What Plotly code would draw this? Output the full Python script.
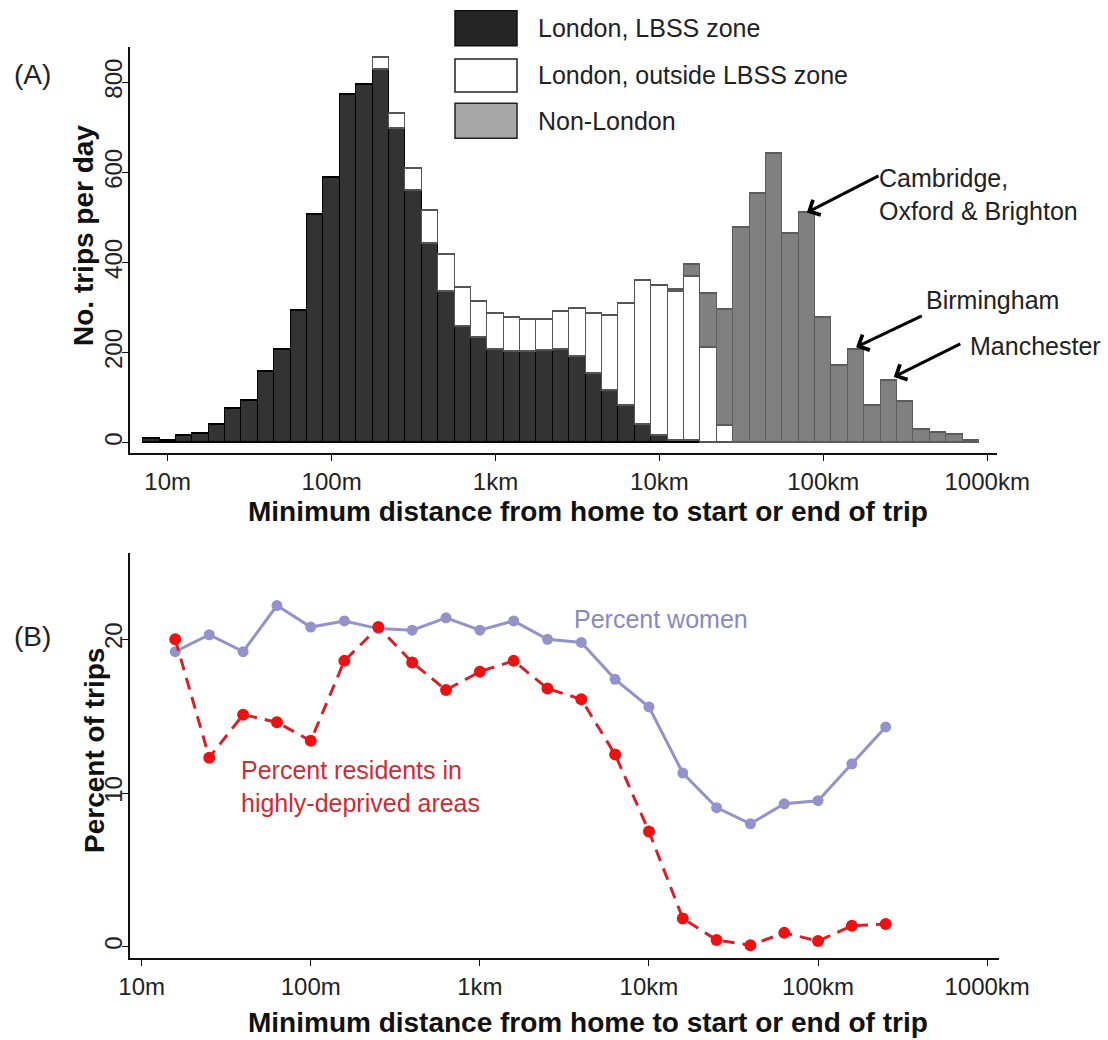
import plotly.graph_objects as go

W, H = 1108, 1040
FONT = "Liberation Sans, Arial, sans-serif"

# ---------------- Panel A data (bins of 0.1 decade, centre in log10 metres) ----------------
bin_log10_m = [0.9, 1.0, 1.1, 1.2, 1.3, 1.4, 1.5, 1.6, 1.7, 1.8,
               1.9, 2.0, 2.1, 2.2, 2.3, 2.4, 2.5, 2.6, 2.7, 2.8,
               2.9, 3.0, 3.1, 3.2, 3.3, 3.4, 3.5, 3.6, 3.7, 3.8,
               3.9, 4.0, 4.1, 4.2, 4.3, 4.4, 4.5, 4.6, 4.7, 4.8,
               4.9, 5.0, 5.1, 5.2, 5.3, 5.4, 5.5, 5.6, 5.7, 5.8, 5.9]
london_lbss = [8, 4, 15, 19, 41, 75, 93, 158, 207, 293,
               507, 588, 773, 794, 829, 696, 559, 442, 335, 257,
               232, 206, 203, 203, 205, 206, 192, 154, 115, 82,
               39, 15, 4, 4, 0, 0, 0, 0, 0, 0,
               0, 0, 0, 0, 0, 0, 0, 0, 0, 0, 0]
london_outside = [0, 0, 0, 0, 0, 0, 0, 0, 0, 0,
                  0, 0, 0, 0, 26, 34, 50, 74, 82, 88,
                  80, 81, 74, 71, 69, 85, 106, 133, 168, 227,
                  321, 333, 331, 364, 212, 37, 0, 0, 0, 0,
                  0, 0, 0, 0, 0, 0, 0, 0, 0, 0, 0]
non_london = [0, 0, 0, 0, 0, 0, 0, 0, 0, 0,
              0, 0, 0, 0, 0, 0, 0, 0, 0, 0,
              0, 0, 0, 0, 0, 0, 0, 0, 0, 0,
              0, 0, 5, 28, 119, 259, 477, 552, 641, 463,
              511, 278, 171, 207, 82, 137, 90, 30, 22, 18, 4]
tick_log10_a = [1, 2, 3, 4, 5, 6]
tick_labels = ["10m", "100m", "1km", "10km", "100km", "1000km"]
yticks_a = [0, 200, 400, 600, 800]

# ---------------- Panel B data ----------------
dist_m = [15.8, 25.1, 39.8, 63.1, 100, 158, 251, 398, 631, 1000, 1585,
          2512, 3981, 6310, 10000, 15849, 25119, 39811, 63096, 100000, 158489, 251189]
pct_women = [19.2, 20.3, 19.2, 22.2, 20.8, 21.2, 20.7, 20.6, 21.4, 20.6, 21.2,
             20.0, 19.8, 17.4, 15.6, 11.3, 9.05, 8.0, 9.3, 9.5, 11.9, 14.3]
pct_deprived = [20.0, 12.3, 15.1, 14.6, 13.4, 18.6, 20.8, 18.5, 16.7, 17.9, 18.6,
                16.8, 16.1, 12.5, 7.5, 1.84, 0.43, 0.1, 0.9, 0.37, 1.36, 1.47]
tick_m_b = [10, 100, 1000, 10000, 100000, 1000000]
yticks_b = [0, 10, 20]


def nz(v):
    return [x if x else None for x in v]


def px(x):
    return x / W


def py(y):
    return 1 - y / H


fig = go.Figure()

fig.add_trace(go.Bar(x=bin_log10_m, y=nz(london_lbss), width=0.1, name="London, LBSS zone",
                     marker=dict(color="#333333", line=dict(color="#000000", width=1.3)),
                     xaxis="x", yaxis="y", showlegend=False))
fig.add_trace(go.Bar(x=bin_log10_m, y=nz(london_outside), width=0.1, name="London, outside LBSS zone",
                     marker=dict(color="#ffffff", line=dict(color="#555555", width=1.3)),
                     xaxis="x", yaxis="y", showlegend=False))
fig.add_trace(go.Bar(x=bin_log10_m, y=nz(non_london), width=0.1, name="Non-London",
                     marker=dict(color="#808080", line=dict(color="#5c5c5c", width=1.3)),
                     xaxis="x", yaxis="y", showlegend=False))

fig.add_trace(go.Scatter(x=dist_m, y=pct_women, mode="lines+markers", name="Percent women",
                         line=dict(color="#9393cc", width=3),
                         marker=dict(color="#9393cc", size=11),
                         xaxis="x2", yaxis="y2", showlegend=False))
fig.add_trace(go.Scatter(x=dist_m, y=pct_deprived, mode="lines+markers",
                         name="Percent residents in highly-deprived areas",
                         line=dict(color="#d8202a", width=3, dash="12px,8px"),
                         marker=dict(color="#ee1111", size=12),
                         xaxis="x2", yaxis="y2", showlegend=False))

axis_common = dict(showline=True, linecolor="#111111", linewidth=1.5, ticks="outside",
                   ticklen=6, tickwidth=1.3, tickcolor="#111111", showgrid=False,
                   zeroline=False, tickfont=dict(family=FONT, size=24, color="#222222"),
                   fixedrange=True, automargin=False)

fig.update_layout(
    template="none",
    width=W, height=H,
    margin=dict(l=0, r=0, t=0, b=0, pad=0),
    paper_bgcolor="white", plot_bgcolor="white",
    barmode="stack", bargap=0,
    showlegend=False,
    font=dict(family=FONT, color="#111111"),
    xaxis=dict(domain=[px(130), px(996.7)], range=[0.770, 6.058], tickmode="array",
               tickvals=tick_log10_a, ticktext=tick_labels, anchor="y", **axis_common),
    yaxis=dict(domain=[py(453.3), py(46.7)], range=[-23.5, 879], tickmode="array",
               tickvals=yticks_a, tickangle=-90, anchor="x", ticklabelstandoff=-9, **axis_common),
    xaxis2=dict(domain=[px(130), px(999)], type="log", range=[0.931, 6.070], tickmode="array",
                tickvals=tick_m_b, ticktext=tick_labels, anchor="y2", **axis_common),
    yaxis2=dict(domain=[py(958.3), py(553.3)], range=[-0.755, 25.6], tickmode="array",
                tickvals=yticks_b, tickangle=-90, anchor="x2", ticklabelstandoff=-9, **axis_common),
)

shapes = []
annotations = []

# Legend (manual, large boxes)
legend_items = [("London, LBSS zone", "#262626", "#111111", 10.7, 45.7, 28),
                ("London, outside LBSS zone", "#ffffff", "#222222", 59, 92, 75),
                ("Non-London", "#a6a6a6", "#222222", 103.3, 138.3, 121)]
for label, fill, edge, y0, y1, yc in legend_items:
    shapes.append(dict(type="rect", xref="paper", yref="paper", x0=px(455), x1=px(517),
                       y0=py(y1), y1=py(y0), fillcolor=fill, line=dict(color=edge, width=1.5)))
    annotations.append(dict(xref="paper", yref="paper", x=px(536), y=py(yc), text=label,
                            showarrow=False, xanchor="left", yanchor="middle",
                            font=dict(family=FONT, size=25, color="#222222")))

# Panel labels
annotations.append(dict(xref="paper", yref="paper", x=px(32), y=py(75), text="(A)", showarrow=False,
                        xanchor="center", yanchor="middle", font=dict(family=FONT, size=28, color="#222222")))
annotations.append(dict(xref="paper", yref="paper", x=px(32), y=py(636), text="(B)", showarrow=False,
                        xanchor="center", yanchor="middle", font=dict(family=FONT, size=28, color="#222222")))

# Axis titles
xtitle = "<b>Minimum distance from home to start or end of trip</b>"
annotations.append(dict(xref="paper", yref="paper", x=px(588), y=py(511), text=xtitle, showarrow=False,
                        xanchor="center", yanchor="middle", font=dict(family=FONT, size=28, color="#111111")))
annotations.append(dict(xref="paper", yref="paper", x=px(588), y=py(1022), text=xtitle, showarrow=False,
                        xanchor="center", yanchor="middle", font=dict(family=FONT, size=28, color="#111111")))
annotations.append(dict(xref="paper", yref="paper", x=px(84), y=py(236), text="<b>No. trips per day</b>",
                        showarrow=False, textangle=-90, xanchor="center", yanchor="middle",
                        font=dict(family=FONT, size=28, color="#111111")))
annotations.append(dict(xref="paper", yref="paper", x=px(94), y=py(751), text="<b>Percent of trips</b>",
                        showarrow=False, textangle=-90, xanchor="center", yanchor="middle",
                        font=dict(family=FONT, size=28, color="#111111")))

# City annotations with arrows (tip at bar top, tail near the text)
arrows = [(4.9, 511, 5.346, 594), (5.2, 212, 5.61, 283), (5.43, 146, 5.845, 221)]
for tx, ty, axv, ayv in arrows:
    annotations.append(dict(x=tx, y=ty, xref="x", yref="y", ax=axv, ay=ayv, axref="x", ayref="y",
                            text="", showarrow=True, arrowhead=4, arrowsize=1.1, arrowwidth=3,
                            arrowcolor="#000000", standoff=0))
annotations.append(dict(xref="paper", yref="paper", x=px(877), y=py(162),
                        text="Cambridge,<br>Oxford & Brighton", showarrow=False, align="left",
                        xanchor="left", yanchor="top", font=dict(family=FONT, size=25, color="#222222")))
annotations.append(dict(xref="paper", yref="paper", x=px(924), y=py(300), text="Birmingham",
                        showarrow=False, xanchor="left", yanchor="middle",
                        font=dict(family=FONT, size=25, color="#222222")))
annotations.append(dict(xref="paper", yref="paper", x=px(968), y=py(346), text="Manchester",
                        showarrow=False, xanchor="left", yanchor="middle",
                        font=dict(family=FONT, size=25, color="#222222")))

# Panel B series labels
annotations.append(dict(xref="paper", yref="paper", x=px(572), y=py(619), text="Percent women",
                        showarrow=False, xanchor="left", yanchor="middle",
                        font=dict(family=FONT, size=25, color="#8888c4")))
annotations.append(dict(xref="paper", yref="paper", x=px(239), y=py(786),
                        text="Percent residents in<br>highly-deprived areas", showarrow=False,
                        align="left", xanchor="left", yanchor="middle",
                        font=dict(family=FONT, size=25, color="#d02a33")))

fig.update_layout(shapes=shapes, annotations=annotations)

fig.write_html("out.html", config={"displayModeBar": False},
               post_script="document.body.style.margin='0';document.body.style.overflow='hidden';")
